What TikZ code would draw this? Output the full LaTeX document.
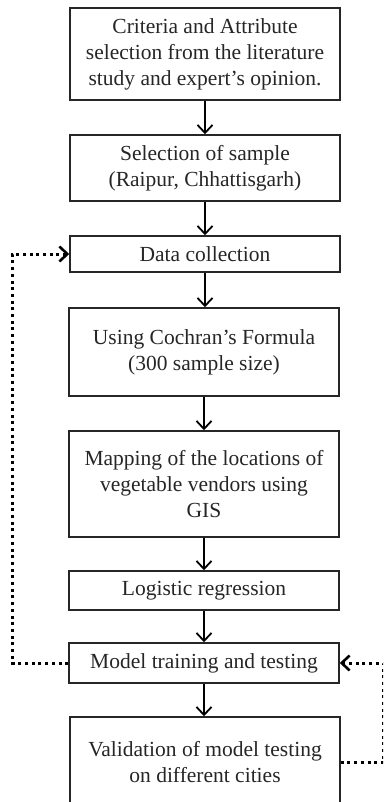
\documentclass[tikz,border=0pt]{standalone}
\usepackage{fontspec}
\setmainfont{Liberation Serif}
\usetikzlibrary{arrows.meta}
\begin{document}
\begin{tikzpicture}[x=1pt,y=-1pt,
  box/.style={draw=black!85, line width=1.5pt, fill=white, align=center, inner sep=0pt,
    minimum width=270pt, font=\fontsize{21.5}{26}\selectfont, text=black!85},
  flow/.style={line width=1.8pt, -{Straight Barb[length=8pt,width=15pt,line width=1.8pt]}},
  fb/.style={line width=3pt, dash pattern=on 3pt off 3.7pt},
  fbarrow/.style={fb, -{Straight Barb[length=8pt,width=15pt,line width=2.6pt]}}]
\useasboundingbox (0,0) rectangle (383,802);
\clip (0,0) rectangle (383,802);
\node[box, minimum height=92pt] (b1) at (205,54)
  {Criteria and Attribute\\selection from the literature\\study and expert’s opinion.};
\node[box, minimum height=66pt] (b2) at (205,168)
  {Selection of sample\\(Raipur, Chhattisgarh)};
\node[box, minimum height=36pt] (b3) at (205,254)
  {Data collection};
\node[box, minimum height=88pt] (b4) at (204,352)
  {Using Cochran’s Formula\\(300 sample size)};
\node[box, minimum height=106pt] (b5) at (204,484)
  {Mapping of the locations of\\vegetable vendors using\\GIS};
\node[box, minimum height=39pt] (b6) at (204,590.5)
  {Logistic regression};
\node[box, minimum height=40pt] (b7) at (204,663)
  {Model training and testing};
\node[box, minimum height=91pt] (b8) at (205,762.5)
  {Validation of model testing\\on different cities};
\draw[flow] (b1.south) -- (b2.north);
\draw[flow] (b2.south) -- (b3.north);
\draw[flow] (b3.south) -- (b3.south |- b4.north);
\draw[flow] (b4.south) -- (b5.north);
\draw[flow] (b5.south) -- (b6.north);
\draw[flow] (b6.south) -- (b7.north);
\draw[flow] (b7.south) -- (b7.south |- b8.north);
\draw[fbarrow] (b7.west) -- ++(-56,0) |- (b3.west);
\draw[fbarrow] (b8.east) -- ++(43,0) |- (b7.east);
\end{tikzpicture}
\end{document}
